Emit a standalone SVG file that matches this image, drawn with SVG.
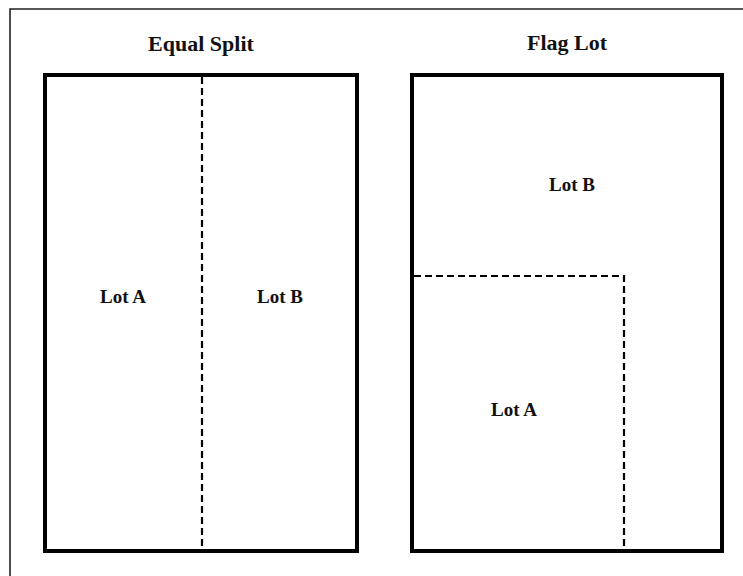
<svg xmlns="http://www.w3.org/2000/svg" width="743" height="576" viewBox="0 0 743 576">
<style>
.frame{fill:none;stroke:#222;stroke-width:1.6}
.lot{fill:#fff;stroke:#000;stroke-width:4}
.div{fill:none;stroke:#000;stroke-width:2.2;stroke-dasharray:7 4}
.title{font-family:"Liberation Serif",serif;font-size:22px;font-weight:bold;fill:#111;text-anchor:middle}
.lbl{font-family:"Liberation Serif",serif;font-size:19px;font-weight:bold;fill:#111;text-anchor:middle}
</style>
<rect x="0" y="0" width="743" height="576" fill="#fff"/>
<path class="frame" d="M10 590 V9 H760"/>
<g id="equal-split">
<text class="title" x="201" y="51">Equal Split</text>
<rect class="lot" x="45" y="75" width="312" height="476"/>
</g>
<g id="flag-lot">
<text class="title" x="567" y="50">Flag Lot</text>
<rect class="lot" x="412" y="75" width="310" height="476"/>
</g>
<g id="connectors">
<path class="div" d="M202 77 V549"/>
<path class="div" d="M414 276 H624 V549"/>
</g>
<g id="labels">
<text class="lbl" x="123" y="303">Lot A</text>
<text class="lbl" x="280" y="303">Lot B</text>
<text class="lbl" x="572" y="191">Lot B</text>
<text class="lbl" x="514" y="416">Lot A</text>
</g>
</svg>
